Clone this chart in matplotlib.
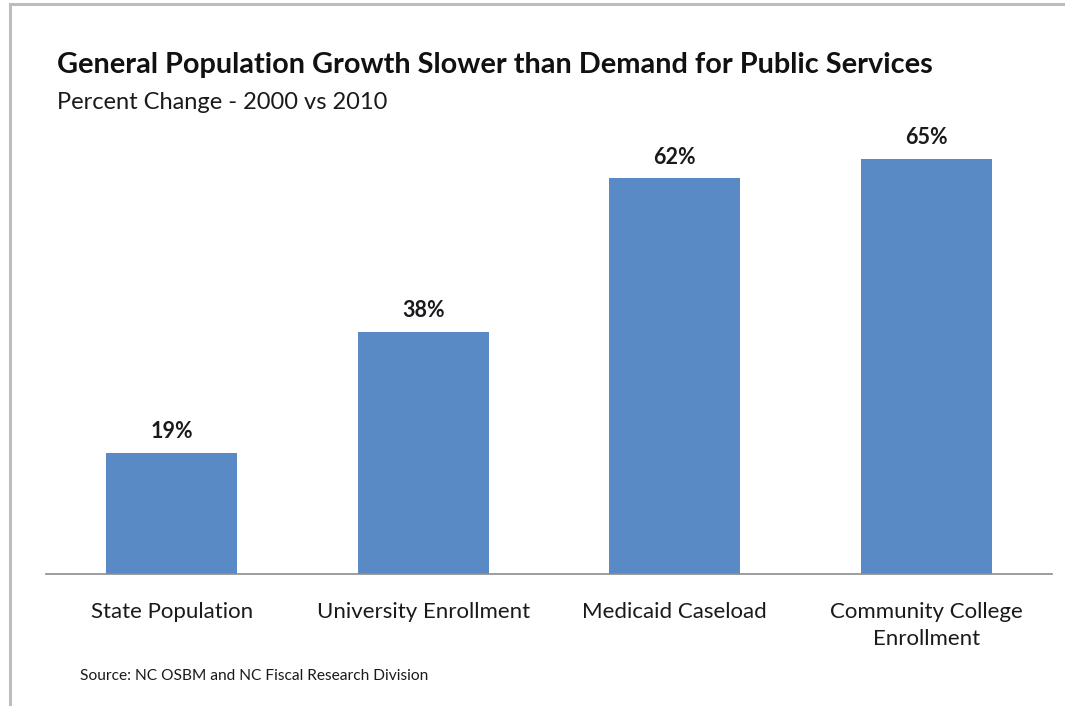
import matplotlib.pyplot as plt
from matplotlib.lines import Line2D

# data
categories = ["State Population", "University Enrollment", "Medicaid Caseload",
              "Community College\nEnrollment"]
pct_change = [19, 38, 62, 65]

plt.rcParams['font.family'] = ['Lato', 'DejaVu Sans']

fig = plt.figure(figsize=(10.65, 7.06), dpi=100)
ax = fig.add_axes([46/1065, 132/706, 1006/1065, (574-130)/706])

x = range(len(categories))
bars = ax.bar(x, pct_change, width=0.52, color='#5A8AC6')
for b, v in zip(bars, pct_change):
    ax.text(b.get_x() + b.get_width()/2, v + 1.7, "%d%%" % v, ha='center', va='bottom',
            fontsize=15.5, fontweight='bold', color='#1a1a1a')

ax.set_xlim(-0.5, 3.5)
ax.set_ylim(0, 69.6)
ax.set_xticks(list(x))
ax.set_xticklabels(categories, fontsize=16, color='#1a1a1a', linespacing=1.45)
ax.tick_params(axis='x', length=0, pad=20)
ax.set_yticks([])
for s in ['top', 'right', 'left']:
    ax.spines[s].set_visible(False)
ax.spines['bottom'].set_color('#8c8c8c')
ax.spines['bottom'].set_linewidth(1.2)

fig.text(57/1065, 1 - 73/706, "General Population Growth Slower than Demand for Public Services",
         fontsize=20.8, fontweight='bold', color='#111111')
fig.text(57/1065, 1 - 109/706, "Percent Change - 2000 vs 2010", fontsize=17, color='#1a1a1a')
fig.text(80/1065, 1 - 680/706, "Source: NC OSBM and NC Fiscal Research Division",
         fontsize=11.2, color='#1a1a1a')

# frame lines on left and top
fig.add_artist(Line2D([9.5/1065, 9.5/1065], [0, 1 - 4/706], transform=fig.transFigure,
                      color='#bdbdbd', lw=2.2))
fig.add_artist(Line2D([9.5/1065, 1], [1 - 4/706, 1 - 4/706], transform=fig.transFigure,
                      color='#bdbdbd', lw=2.2))

fig.savefig("out.png", dpi=100)
